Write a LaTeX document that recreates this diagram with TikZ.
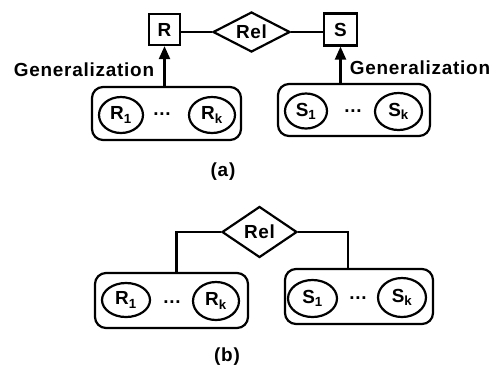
\documentclass[tikz,border=0pt]{standalone}
\usepackage{fontspec}
\setmainfont{Liberation Sans}[LetterSpace=4]
\usetikzlibrary{shapes.geometric,arrows.meta}
\begin{document}
\begin{tikzpicture}[x=1bp,y=-1bp,
  every node/.style={font=\fontsize{19}{22}\selectfont\bfseries},
  ln/.style={line width=2.2bp},
  ent/.style={draw,ln,rectangle,inner sep=0pt},
  rel/.style={draw,ln,diamond,aspect=2,inner sep=0pt},
  grp/.style={draw,ln,rectangle,rounded corners=11bp,inner sep=0pt},
  sub/.style={draw,ln,ellipse,inner sep=0pt},
  lab/.style={inner sep=0pt},
  gen/.style={-{Triangle[length=13bp,width=11bp]}}
]
\useasboundingbox (0,0) rectangle (498,373);
% ---------- (a)
\node[ent,minimum width=31bp,minimum height=31bp] (R) at (164.5,29.5) {R};
\node[rel,minimum width=77bp,minimum height=40bp] (relA) at (251.5,32) {Rel};
\node[ent,minimum width=33bp,minimum height=32bp] (S) at (340.5,29.5) {S};
\node[grp,minimum width=149bp,minimum height=53bp] (LgA) at (166.5,113.5) {};
\node[grp,minimum width=152bp,minimum height=52bp] (RgA) at (354,110) {};
\node[sub,minimum width=44bp,minimum height=36bp] (R1a) at (121,115) {R\textsubscript{1}};
\node[lab] (dRa) at (162,114) {...};
\node[sub,minimum width=46bp,minimum height=36bp] (Rka) at (212,115) {R\textsubscript{k}};
\node[sub,minimum width=42bp,minimum height=35bp] (S1a) at (306,111) {S\textsubscript{1}};
\node[lab] (dSa) at (353,111) {...};
\node[sub,minimum width=47bp,minimum height=37bp] (Ska) at (398.5,111.5) {S\textsubscript{k}};
\node[lab] (genL) at (84,70) {Generalization};
\node[lab] (genR) at (420,68) {Generalization};
\node[lab] (capA) at (223,172) {(a)};
\draw[ln] (R.east |- relA.west) -- (relA.west);
\draw[ln] (relA.east) -- (relA.east -| S.west);
\draw[ln,gen] (R.south |- LgA.north) -- (R.south);
\draw[ln,gen] (S.south |- RgA.north) -- (S.south);
% ---------- (b)
\node[rel,minimum width=75bp,minimum height=51bp] (relB) at (259.5,232) {Rel};
\node[grp,minimum width=153bp,minimum height=55bp] (LgB) at (171.5,300.5) {};
\node[grp,minimum width=148bp,minimum height=55bp] (RgB) at (359,296.5) {};
\node[sub,minimum width=48bp,minimum height=34bp] (R1b) at (126,300) {R\textsubscript{1}};
\node[lab] (dRb) at (172,302) {...};
\node[sub,minimum width=46bp,minimum height=38bp] (Rkb) at (216,301) {R\textsubscript{k}};
\node[sub,minimum width=49bp,minimum height=37bp] (S1b) at (312.5,298.5) {S\textsubscript{1}};
\node[lab] (dSb) at (358,298) {...};
\node[sub,minimum width=48bp,minimum height=39bp] (Skb) at (402,297.5) {S\textsubscript{k}};
\node[lab] (capB) at (227,357) {(b)};
\draw[ln] (relB.west) -| ([xshift=82.5bp]LgB.north west);
\draw[ln] (relB.east) -| ([xshift=64bp]RgB.north west);
\end{tikzpicture}
\end{document}
